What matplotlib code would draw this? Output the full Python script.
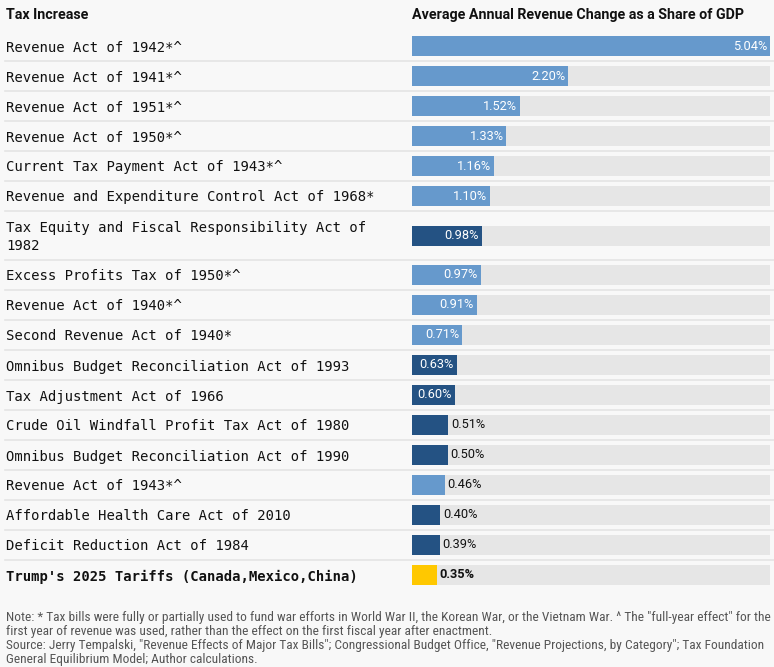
import textwrap

import numpy as np
import matplotlib
matplotlib.use("Agg")
import matplotlib.pyplot as plt
from matplotlib import font_manager
from matplotlib.transforms import blended_transform_factory

# data
bills = [
    "Revenue Act of 1942*^",
    "Revenue Act of 1941*^",
    "Revenue Act of 1951*^",
    "Revenue Act of 1950*^",
    "Current Tax Payment Act of 1943*^",
    "Revenue and Expenditure Control Act of 1968*",
    "Tax Equity and Fiscal Responsibility Act of 1982",
    "Excess Profits Tax of 1950*^",
    "Revenue Act of 1940*^",
    "Second Revenue Act of 1940*",
    "Omnibus Budget Reconciliation Act of 1993",
    "Tax Adjustment Act of 1966",
    "Crude Oil Windfall Profit Tax Act of 1980",
    "Omnibus Budget Reconciliation Act of 1990",
    "Revenue Act of 1943*^",
    "Affordable Health Care Act of 2010",
    "Deficit Reduction Act of 1984",
    "Trump's 2025 Tariffs (Canada,Mexico,China)",
]
revenue_pct = [5.04, 2.20, 1.52, 1.33, 1.16, 1.10, 0.98, 0.97, 0.91,
               0.71, 0.63, 0.60, 0.51, 0.50, 0.46, 0.40, 0.39, 0.35]
group = ["war"] * 6 + ["peace"] + ["war"] * 3 + ["peace"] * 4 + ["war"] \
    + ["peace"] * 2 + ["tariff"]

col_left = "Tax Increase"
col_right = "Average Annual Revenue Change as a Share of GDP"
footnote = [
    'Note: * Tax bills were fully or partially used to fund war efforts in World War II, the Korean War, or the Vietnam War. ^ The "full-year effect" for the',
    "first year of revenue was used, rather than the effect on the first fiscal year after enactment.",
    'Source: Jerry Tempalski, "Revenue Effects of Major Tax Bills"; Congressional Budget Office, "Revenue Projections, by Category"; Tax Foundation',
    "General Equilibrium Model; Author calculations.",
]

COLORS = {"war": "#6699cc", "peace": "#245283", "tariff": "#ffc800"}
BG = "#f8f8f8"
TRACK = "#e6e6e6"
SEP = "#e4e4e4"

W, H = 774, 667


def has_font(name):
    try:
        font_manager.findfont(font_manager.FontProperties(family=name),
                              fallback_to_default=False)
        return True
    except ValueError:
        return False


foot_family = next((f for f in ["Roboto Condensed", "Liberation Sans Narrow",
                                "Roboto"] if has_font(f)), "DejaVu Sans")

fig = plt.figure(figsize=(W / 100, H / 100), dpi=100, facecolor=BG)
ax = fig.add_axes([412 / W, 0, 358 / W, 1])
ax.set_facecolor(BG)
ax.axis("off")
xmax = max(revenue_pct)
trans = blended_transform_factory(fig.transFigure, ax.transData)

# row geometry (pixels): wrapped labels get taller rows
wrapped = [textwrap.wrap(b, 45) for b in bills]
row_h = np.array([30 + 19 * (len(w) - 1) for w in wrapped])
tops = 31 + np.concatenate([[0], np.cumsum(row_h)[:-1]])
centers = tops + row_h / 2

ax.barh(centers, [xmax] * len(bills), height=20, color=TRACK)
ax.barh(centers, revenue_pct, height=20, color=[COLORS[g] for g in group])

for y in tops[1:]:
    ax.plot([5 / W, 1], [y, y], transform=trans, color=SEP, lw=1.2,
            clip_on=False)

for lines, c, g, v in zip(wrapped, centers, group, revenue_pct):
    bold = g == "tariff"
    ax.text(6 / W, c + 1.5, "\n".join(lines), transform=trans, ha="left",
            va="center", family="DejaVu Sans Mono", size=10,
            linespacing=1.4, color="#111111",
            weight="bold" if bold else "normal")
    bar_px = v / xmax * 358
    if bar_px > 40:
        ax.annotate(f"{v:.2f}%", (v, c), xytext=(-3, 0),
                    textcoords="offset pixels", ha="right", va="center",
                    family="Roboto", size=9.2, color="white")
    else:
        ax.annotate(f"{v:.2f}%", (v, c), xytext=(3, 0),
                    textcoords="offset pixels", ha="left", va="center",
                    family="Roboto", size=9.2, color="#111111",
                    weight="bold" if bold else "normal")

ax.set_xlim(0, xmax)
ax.set_ylim(H, 0)

fig.text(6 / W, 1 - 15 / H, col_left, ha="left", va="center",
         family="Roboto", weight="bold", size=10.3, color="#111111")
fig.text(412 / W, 1 - 15 / H, col_right, ha="left", va="center",
         family="Roboto", weight="bold", size=10.3, color="#111111")

# footnote, sized so the first line fills the width like the reference
renderer = fig.canvas.get_renderer()
probe = fig.text(0, 0, footnote[0], family=foot_family, size=10)
width = probe.get_window_extent(renderer).width
probe.remove()
foot_size = 10 * 760 / width
for i, line in enumerate(footnote):
    fig.text(6 / W, 1 - (617 + 14 * i) / H, line, ha="left", va="center",
             family=foot_family, size=foot_size, color="#555555")

fig.savefig("out.png", dpi=100, facecolor=BG)
